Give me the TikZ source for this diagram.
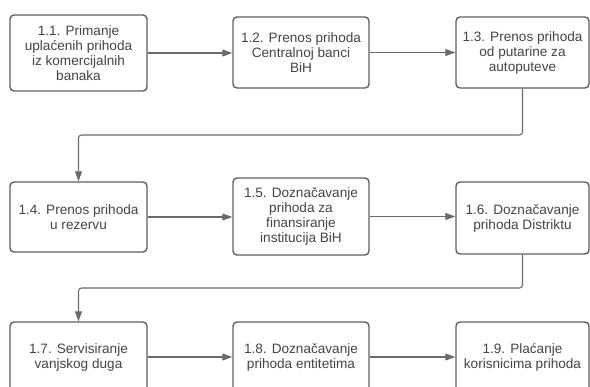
\documentclass[tikz,border=0pt]{standalone}
\usepackage{fontspec}
\setmainfont{Liberation Sans}
\usetikzlibrary{arrows.meta}
\definecolor{boxline}{HTML}{5E5E5E}
\definecolor{txtcol}{HTML}{444444}
\definecolor{conncol}{HTML}{6A6A6A}
\begin{document}
\begin{tikzpicture}[x=1pt,y=-1pt,
  box/.style={draw=boxline, line width=1.4pt, rounded corners=4pt, fill=white,
    align=center, text=txtcol, font=\fontsize{13.6}{15}\selectfont, inner sep=1pt},
  conn/.style={draw=conncol, line width=1.1pt, rounded corners=3pt,
    -{Triangle[length=10pt,width=7pt]}}]
\clip (0,0) rectangle (590,387);
\fill[white] (0,0) rectangle (590,387);
% row 1
\node[box, minimum width=137pt, minimum height=76pt] (b11) at (78.5,53)
  {1.1. Primanje\\uplaćenih prihoda\\iz komercijalnih\\banaka};
\node[box, minimum width=136pt, minimum height=71pt] (b12) at (301,52.5)
  {1.2. Prenos prihoda\\Centralnoj banci\\BiH};
\node[box, minimum width=133pt, minimum height=71pt] (b13) at (522.5,52.5)
  {1.3. Prenos prihoda\\od putarine za\\autoputeve};
% row 2
\node[box, minimum width=137pt, minimum height=70pt] (b14) at (78.5,217)
  {1.4. Prenos prihoda\\u rezervu};
\node[box, minimum width=136pt, minimum height=77pt] (b15) at (301,216.5)
  {1.5. Doznačavanje\\prihoda za\\finansiranje\\institucija BiH};
\node[box, minimum width=133pt, minimum height=72pt] (b16) at (522.5,218)
  {1.6. Doznačavanje\\prihoda Distriktu};
% row 3
\node[box, minimum width=137pt, minimum height=70pt] (b17) at (78.5,357)
  {1.7. Servisiranje\\vanjskog duga};
\node[box, minimum width=136pt, minimum height=70pt] (b18) at (301,357)
  {1.8. Doznačavanje\\prihoda entitetima};
\node[box, minimum width=133pt, minimum height=70pt] (b19) at (522.5,357)
  {1.9. Plaćanje\\korisnicima prihoda};
% bend points
\coordinate (c1) at (300,135);
\coordinate (c2) at (300,288);
% connectors
\draw[conn] (b11.east) -- (b11.east -| b12.west);
\draw[conn] (b12.east) -- (b12.east -| b13.west);
\draw[conn] (b13.south) -- (b13.south |- c1) -- (b14.north |- c1) -- (b14.north);
\draw[conn] (b14.east) -- (b14.east -| b15.west);
\draw[conn] (b15.east) -- (b15.east -| b16.west);
\draw[conn] (b16.south) -- (b16.south |- c2) -- (b17.north |- c2) -- (b17.north);
\draw[conn] (b17.east) -- (b17.east -| b18.west);
\draw[conn] (b18.east) -- (b18.east -| b19.west);
\end{tikzpicture}
\end{document}
